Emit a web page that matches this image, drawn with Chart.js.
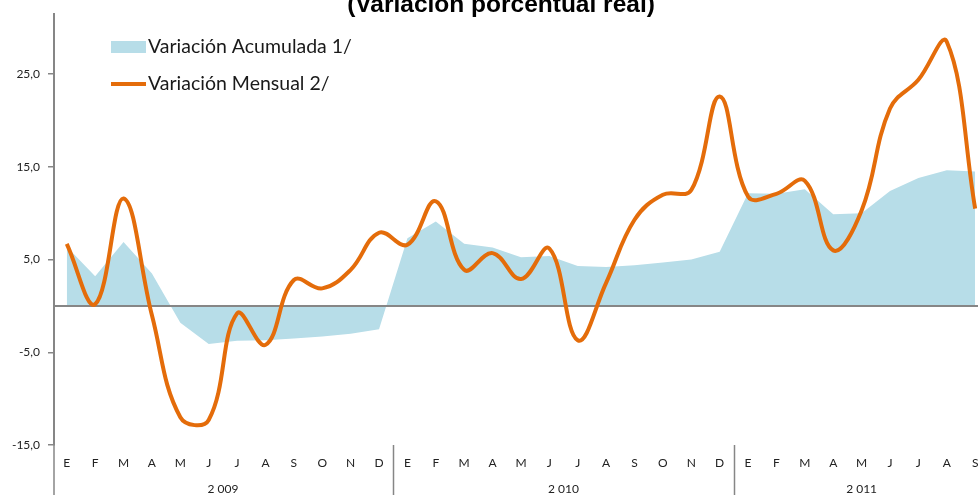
<!DOCTYPE html>
<html>
<head>
<meta charset="utf-8">
<script src="https://cdn.jsdelivr.net/npm/chart.js@4"></script>
<style>
  html, body { margin: 0; padding: 0; background: #fff; }
  canvas { display: block; }
</style>
</head>
<body>
<canvas id="chart" width="978" height="495"></canvas>
<script>
// Data
const months = ["E","F","M","A","M","J","J","A","S","O","N","D",
                "E","F","M","A","M","J","J","A","S","O","N","D",
                "E","F","M","A","M","J","J","A","S"];
const years = ["2 009", "2 010", "2 011"];
const yearFirst = [0, 12, 24];
const yearLast = [11, 23, 32];
const yTicks = [-15, -5, 5, 15, 25];

const acumulada = [6.4, 3.2, 6.9, 3.5, -1.8, -4.1, -3.75, -3.7, -3.5, -3.3, -3.0, -2.5,
                   7.3, 9.1, 6.7, 6.3, 5.25, 5.4, 4.3, 4.2, 4.4, 4.7, 5.0, 5.85,
                   12.15, 12.1, 12.6, 9.9, 10.0, 12.4, 13.8, 14.65, 14.5];
const mensual = [6.7, 0.2, 11.6, -1.0, -12.0, -12.3, -0.8, -4.2, 2.8, 1.9, 3.9, 7.9,
                 6.6, 11.3, 3.9, 5.7, 2.9, 6.2, -3.7, 2.5, 9.3, 12.0, 12.5, 22.6,
                 11.8, 12.1, 13.5, 6.0, 10.3, 21.3, 24.4, 28.5, 10.5];

const AXIS = "#868686";
const BLUE = "#b7dde8";
const ORANGE = "#e46c0a";
const fmt = (v) => v.toFixed(1).replace(".", ",");

// Extra drawing: title, zero line, separators, year labels, legend
const extras = {
    id: "extras",
    afterDatasetDraw(chart, args) {
        if (args.index !== 1) return; // right after the area, before the line
        const { ctx, chartArea, scales } = chart;
        const y0 = scales.y.getPixelForValue(0);
        ctx.save();
        ctx.strokeStyle = AXIS;
        ctx.lineWidth = 2;
        ctx.beginPath();
        ctx.moveTo(chartArea.left, y0);
        ctx.lineTo(chartArea.right, y0);
        ctx.stroke();
        ctx.restore();
    },
    afterDraw(chart) {
        const { ctx, chartArea, scales } = chart;
        const x = scales.x;
        ctx.save();

        // title (cut at the top)
        ctx.fillStyle = "#000";
        ctx.font = "bold 24.5px 'Liberation Sans', Arial, sans-serif";
        ctx.textAlign = "center";
        ctx.textBaseline = "alphabetic";
        ctx.fillText("(Variación porcentual real)", 501, 11.5);

        // y axis continues down + year separators
        ctx.strokeStyle = AXIS;
        ctx.lineWidth = 1.5;
        ctx.beginPath();
        ctx.moveTo(chartArea.left, chartArea.bottom);
        ctx.lineTo(chartArea.left, chart.height);
        [11.5, 23.5].forEach(v => {
            const px = Math.round(x.getPixelForValue(v)) + 0.5;
            ctx.moveTo(px, chartArea.bottom);
            ctx.lineTo(px, chart.height);
        });
        ctx.stroke();

        // year labels
        ctx.fillStyle = "#222";
        ctx.font = "12px Lato, sans-serif";
        ctx.textBaseline = "middle";
        years.forEach((yr, i) => {
            const cx = (x.getPixelForValue(yearFirst[i]) + x.getPixelForValue(yearLast[i])) / 2;
            ctx.fillText(yr, cx, 489);
        });

        // legend
        ctx.textAlign = "left";
        ctx.font = "19.5px Lato, sans-serif";
        ctx.fillStyle = BLUE;
        ctx.fillRect(111, 41, 35, 12);
        ctx.strokeStyle = ORANGE;
        ctx.lineWidth = 4;
        ctx.beginPath();
        ctx.moveTo(111, 84);
        ctx.lineTo(146, 84);
        ctx.stroke();
        ctx.fillStyle = "#1a1a1a";
        ctx.fillText("Variación Acumulada 1/", 148, 47);
        ctx.fillText("Variación Mensual 2/", 148, 84);

        ctx.restore();
    }
};

new Chart(document.getElementById("chart"), {
    type: "line",
    data: {
        datasets: [
            {
                label: "Variación Mensual 2/",
                data: mensual.map((v, i) => ({ x: i, y: v })),
                borderColor: ORANGE,
                borderWidth: 4,
                pointRadius: 0,
                tension: 0.4,
                fill: false,
                order: 0
            },
            {
                label: "Variación Acumulada 1/",
                data: acumulada.map((v, i) => ({ x: i, y: v })),
                borderWidth: 0,
                borderColor: BLUE,
                backgroundColor: BLUE,
                pointRadius: 0,
                tension: 0,
                fill: "origin",
                order: 1
            }
        ]
    },
    options: {
        responsive: false,
        animation: false,
        devicePixelRatio: 1,
        layout: { padding: { top: 14, left: 0, right: 0, bottom: 0 }, autoPadding: false },
        plugins: { legend: { display: false }, tooltip: { enabled: false } },
        scales: {
            x: {
                type: "linear",
                min: -0.45,
                max: 32.1,
                afterFit: (s) => { s.height = 50; s.paddingLeft = 0; s.paddingRight = 0; },
                afterBuildTicks: (s) => { s.ticks = months.map((_, i) => ({ value: i })); },
                grid: { display: false, drawTicks: false },
                border: { display: false },
                ticks: {
                    autoSkip: false,
                    maxRotation: 0,
                    padding: 11,
                    color: "#222",
                    font: { family: "Lato", size: 12 },
                    callback: (v) => months[v]
                }
            },
            y: {
                min: -15,
                max: 31.5,
                afterFit: (s) => { s.width = 54; s.paddingTop = 0; s.paddingBottom = 0; },
                afterBuildTicks: (s) => { s.ticks = yTicks.map(v => ({ value: v })); },
                grid: { drawOnChartArea: false, color: AXIS, tickLength: 6, lineWidth: 1.5 },
                border: { color: AXIS, width: 2 },
                ticks: {
                    padding: 8,
                    color: "#222",
                    font: { family: "Lato", size: 12 },
                    callback: (v) => fmt(v)
                }
            }
        }
    },
    plugins: [extras]
});
</script>
</body>
</html>
